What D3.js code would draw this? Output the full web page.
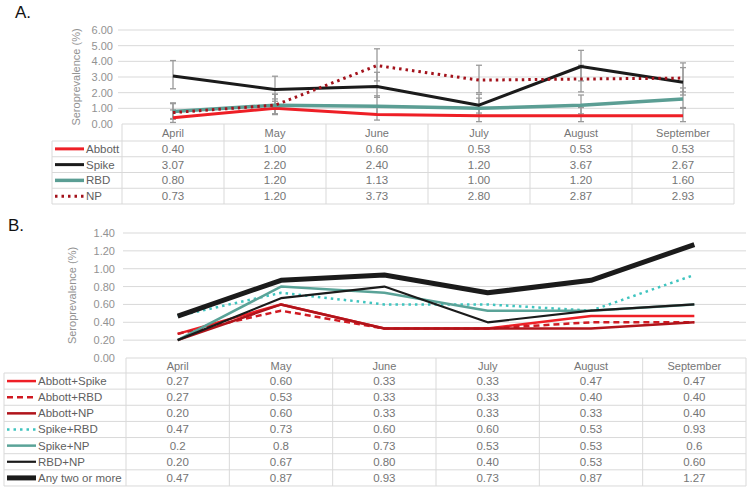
<!DOCTYPE html>
<html><head><meta charset="utf-8">
<script src="https://cdn.jsdelivr.net/npm/d3@7"></script>
<style>body{margin:0;background:#fff}svg{display:block;font-family:"Liberation Sans",Arial,sans-serif}</style>
</head><body><svg id="c" width="750" height="490"></svg>
<script>
const months = ["April","May","June","July","August","September"];
// Panel A
const seriesA = ["Abbott","Spike","RBD","NP"];
const abbott = [0.40,1.00,0.60,0.53,0.53,0.53];
const spike  = [3.07,2.20,2.40,1.20,3.67,2.67];
const rbd    = [0.80,1.20,1.13,1.00,1.20,1.60];
const np     = [0.73,1.20,3.73,2.80,2.87,2.93];
const abbottLo = [0.10,0.60,0.25,0.15,0.15,0.15], abbottHi = [0.90,1.60,1.15,1.05,1.05,1.05];
const spikeLo  = [2.25,1.45,1.70,0.70,2.75,1.85], spikeHi  = [4.05,3.05,3.30,1.90,4.70,3.60];
const rbdLo    = [0.35,0.65,0.60,0.55,0.65,1.00], rbdHi    = [1.35,1.90,1.80,1.65,1.85,2.30];
const npLo     = [0.30,0.65,2.75,2.00,2.05,2.05], npHi     = [1.30,1.90,4.80,3.75,3.75,3.90];
const ticksA = ["0.00","1.00","2.00","3.00","4.00","5.00","6.00"];
const labelsA = {
  Abbott:["0.40","1.00","0.60","0.53","0.53","0.53"],
  Spike:["3.07","2.20","2.40","1.20","3.67","2.67"],
  RBD:["0.80","1.20","1.13","1.00","1.20","1.60"],
  NP:["0.73","1.20","3.73","2.80","2.87","2.93"]};
// Panel B
const seriesB = ["Abbott+Spike","Abbott+RBD","Abbott+NP","Spike+RBD","Spike+NP","RBD+NP","Any two or more"];
const abSpike = [0.27,0.60,0.33,0.33,0.47,0.47];
const abRbd   = [0.27,0.53,0.33,0.33,0.40,0.40];
const abNp    = [0.20,0.60,0.33,0.33,0.33,0.40];
const spRbd   = [0.47,0.73,0.60,0.60,0.53,0.93];
const spNp    = [0.2,0.8,0.73,0.53,0.53,0.6];
const rbdNp   = [0.20,0.67,0.80,0.40,0.53,0.60];
const anyTwo  = [0.47,0.87,0.93,0.73,0.87,1.27];
const ticksB = ["0.00","0.20","0.40","0.60","0.80","1.00","1.20","1.40"];
const labelsB = [
  ["0.27","0.60","0.33","0.33","0.47","0.47"],
  ["0.27","0.53","0.33","0.33","0.40","0.40"],
  ["0.20","0.60","0.33","0.33","0.33","0.40"],
  ["0.47","0.73","0.60","0.60","0.53","0.93"],
  ["0.2","0.8","0.73","0.53","0.53","0.6"],
  ["0.20","0.67","0.80","0.40","0.53","0.60"],
  ["0.47","0.87","0.93","0.73","0.87","1.27"]];

const svg = d3.select("#c");
const grid = "#d9d9d9", tickCol = "#929292", txtCol = "#757575";

const stylesA = [
  {c:"#ee1f26",w:3,d:null},
  {c:"#1b1b1b",w:3,d:null},
  {c:"#5b9e94",w:3.5,d:null},
  {c:"#a3121b",w:3,d:"2.5,4"}];
const stylesB = [
  {c:"#ee1f26",w:2.5,d:null},
  {c:"#d01a22",w:2.5,d:"6,4"},
  {c:"#b0141b",w:2.5,d:null},
  {c:"#3fc4bf",w:2.5,d:"2.5,4"},
  {c:"#5aa398",w:2.5,d:null},
  {c:"#1b1b1b",w:2.2,d:null},
  {c:"#1b1b1b",w:5,d:null}];

function panel(o){
  const g = svg.append("g");
  const x = d3.scaleBand().domain(months).range([o.x0,o.x1]).paddingInner(0).paddingOuter(0);
  const y = d3.scaleLinear().domain([0,o.ymax]).range([o.yb,o.yt]);
  const cx = m => x(m)+x.bandwidth()/2;
  g.append("text").attr("x",o.lx).attr("y",o.ly).attr("font-size",17).attr("fill","#111").text(o.letter);
  o.ticks.forEach(t=>{
    const v=+t;
    if(v>0) g.append("line").attr("x1",o.gx0).attr("x2",o.x1).attr("y1",y(v)).attr("y2",y(v)).attr("stroke",grid).attr("stroke-width",1);
    g.append("text").attr("x",o.tx).attr("y",y(v)+4).attr("text-anchor","end").attr("font-size",11).attr("fill",tickCol).text(t);
  });
  g.append("text").attr("transform",`translate(${o.ax},${(o.yb+o.yt)/2}) rotate(-90)`).attr("text-anchor","middle")
    .attr("font-size",11).attr("fill",tickCol).text("Seroprevalence (%)");
  const t = g.append("g");
  const rowH = o.rowH, hdrTop = o.yb, hdrBot = o.yb+o.hdrH;
  const tBot = hdrBot + rowH*o.rows.length;
  t.append("line").attr("x1",o.x0).attr("x2",o.x1).attr("y1",hdrTop).attr("y2",hdrTop).attr("stroke",grid);
  t.append("line").attr("x1",o.x1).attr("x2",o.x1).attr("y1",hdrTop).attr("y2",tBot).attr("stroke",grid);
  months.forEach(m=>{
    t.append("line").attr("x1",x(m)).attr("x2",x(m)).attr("y1",hdrTop).attr("y2",tBot).attr("stroke",grid);
    t.append("text").attr("x",cx(m)).attr("y",(hdrTop+hdrBot)/2+4).attr("text-anchor","middle").attr("font-size",11).attr("fill",txtCol).text(m);
  });
  t.append("line").attr("x1",o.tl).attr("x2",o.tl).attr("y1",hdrBot).attr("y2",tBot).attr("stroke",grid);
  for(let i=0;i<=o.rows.length;i++){
    const yy = hdrBot+rowH*i;
    t.append("line").attr("x1",o.tl).attr("x2",o.x1).attr("y1",yy).attr("y2",yy).attr("stroke",grid);
  }
  o.rows.forEach((r,i)=>{
    const yc = hdrBot+rowH*i+rowH/2;
    const s = o.styles[i];
    t.append("line").attr("x1",o.tl+3).attr("x2",o.tl+3+o.gw).attr("y1",yc).attr("y2",yc)
      .attr("stroke",s.c).attr("stroke-width",s.w).attr("stroke-dasharray",s.d);
    t.append("text").attr("x",o.tl+5+o.gw).attr("y",yc+4).attr("font-size",11.5).attr("fill","#5f5f5f").text(r);
    o.labels[i].forEach((v,j)=>{
      t.append("text").attr("x",cx(months[j])).attr("y",yc+4).attr("text-anchor","middle").attr("font-size",11.5).attr("fill",txtCol).text(v);
    });
  });
  return {g,x,y,cx};
}

const A = panel({letter:"A.",lx:15,ly:18,x0:122,x1:734,gx0:118,yb:124,yt:30,ymax:6,ticks:ticksA,tx:113,ax:80,
  rowH:15.75,hdrH:17,tl:52,gw:29,rows:seriesA,styles:stylesA,labels:seriesA.map(s=>labelsA[s])});
const dataA=[abbott,spike,rbd,np], loA=[abbottLo,spikeLo,rbdLo,npLo], hiA=[abbottHi,spikeHi,rbdHi,npHi];
const eb = A.g.append("g").attr("stroke","#9a9a9a").attr("stroke-width",1.3);
dataA.forEach((s,i)=>{
  months.forEach((m,j)=>{
    const xx=A.cx(m);
    eb.append("line").attr("x1",xx).attr("x2",xx).attr("y1",A.y(loA[i][j])).attr("y2",A.y(hiA[i][j]));
    [loA[i][j],hiA[i][j]].forEach(v=>eb.append("line").attr("x1",xx-3).attr("x2",xx+3).attr("y1",A.y(v)).attr("y2",A.y(v)));
  });
});
const lineA = d3.line().x((d,j)=>A.cx(months[j])).y(d=>A.y(d));
[0,2,1,3].forEach(i=>{
  const s=stylesA[i];
  A.g.append("path").datum(dataA[i]).attr("d",lineA).attr("fill","none").attr("stroke",s.c)
    .attr("stroke-width",s.w).attr("stroke-dasharray",s.d).attr("stroke-linejoin","round");
});

const B = panel({letter:"B.",lx:8,ly:231,x0:126,x1:746,gx0:123,yb:358,yt:233,ymax:1.4,ticks:ticksB,tx:115,ax:76,
  rowH:16.14,hdrH:15,tl:4,gw:29,rows:seriesB,styles:stylesB,labels:labelsB});
const dataB=[abSpike,abRbd,abNp,spRbd,spNp,rbdNp,anyTwo];
const lineB = d3.line().x((d,j)=>B.cx(months[j])).y(d=>B.y(d));
dataB.forEach((v,i)=>{
  const s=stylesB[i];
  B.g.append("path").datum(v).attr("d",lineB).attr("fill","none").attr("stroke",s.c)
    .attr("stroke-width",s.w).attr("stroke-dasharray",s.d).attr("stroke-linejoin","round");
});
</script></body></html>
